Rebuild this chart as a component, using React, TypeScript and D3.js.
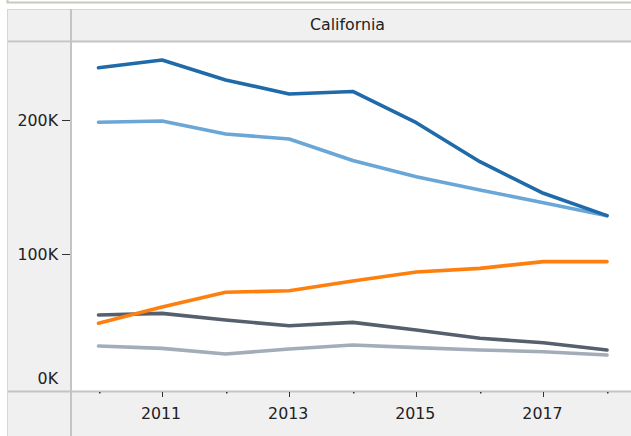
import * as d3 from "d3";
import { useEffect, useRef } from "react";

const years = [2010, 2011, 2012, 2013, 2014, 2015, 2016, 2017, 2018];
const series1 = [239.0, 244.8, 229.9, 219.4, 221.3, 198.0, 168.9, 145.3, 128.6];
const series2 = [198.3, 199.3, 189.6, 185.8, 169.8, 157.7, 147.8, 138.3, 128.6];
const series3 = [48.3, 60.4, 71.4, 72.6, 79.9, 86.6, 89.3, 94.3, 94.3];
const series4 = [54.5, 55.7, 50.7, 46.5, 49.0, 43.3, 37.1, 33.8, 28.4];
const series5 = [31.3, 29.6, 25.4, 29.1, 32.1, 30.1, 28.4, 27.1, 24.6];
const seriesColors = ["#a3acb9", "#565f6d", "#ff7f0e", "#6aa6d6", "#1f6aa8"];
const yTicks = [0, 100, 200];
const xMajor = [2011, 2013, 2015, 2017];
const xMinor = [2010, 2012, 2014, 2016, 2018];
const panelTitle = "California";

export default function App() {
  const ref = useRef<SVGSVGElement>(null);

  useEffect(() => {
    if (!ref.current) return;
    const el = ref.current;
    d3.select(el).selectAll("*").remove();

    const W = 631;
    const H = 436;
    const font = "DejaVu Sans, sans-serif";
    const fs = 15.8;
    const panel = "#f0f0f0";
    const line = "#c4c4c4";
    const plot = { left: 72, right: 631, top: 43, bottom: 391 };

    const svg = d3.select(el).attr("width", W).attr("height", H);

    // frame pieces
    svg.append("rect").attr("width", W).attr("height", H).attr("fill", "#fff");
    svg.append("path").attr("d", `M7.5,0 V2.5 H${W}`).attr("fill", "none").attr("stroke", "#c9c9bf").attr("stroke-width", 2);

    // header row
    svg.append("rect").attr("x", 7).attr("y", 9).attr("width", W - 7).attr("height", 33).attr("fill", panel);
    svg.append("line").attr("x1", 7).attr("x2", W).attr("y1", 9.5).attr("y2", 9.5).attr("stroke", "#d6d6d6");
    svg.append("line").attr("x1", 7).attr("x2", W).attr("y1", 41.5).attr("y2", 41.5).attr("stroke", line).attr("stroke-width", 2);
    svg.append("line").attr("x1", 7.5).attr("x2", 7.5).attr("y1", 9).attr("y2", H).attr("stroke", "#d6d6d6");
    svg.append("line").attr("x1", 71).attr("x2", 71).attr("y1", 9).attr("y2", H).attr("stroke", line).attr("stroke-width", 2);
    svg
      .append("text")
      .attr("x", (plot.left + plot.right) / 2 - 4)
      .attr("y", 30)
      .attr("text-anchor", "middle")
      .attr("font-family", font)
      .attr("font-size", fs)
      .attr("fill", "#222")
      .text(panelTitle);

    // left axis panel + bottom axis panel
    svg.append("rect").attr("x", 8).attr("y", 43).attr("width", 62).attr("height", H - 43).attr("fill", panel);
    svg.append("rect").attr("x", 72).attr("y", plot.bottom + 1).attr("width", W - 72).attr("height", H - plot.bottom).attr("fill", panel);
    svg.append("line").attr("x1", 8).attr("x2", W).attr("y1", plot.bottom + 0.5).attr("y2", plot.bottom + 0.5).attr("stroke", line).attr("stroke-width", 2);

    const x = d3.scaleLinear().domain([2010, 2018]).range([98.5, 607]);
    const y = d3.scaleLinear().domain([0, 100]).range([388, 254]);

    // y axis
    const ya = svg.append("g");
    ya.selectAll("text")
      .data(yTicks)
      .join("text")
      .attr("x", 58)
      .attr("y", d => (d === 0 ? y(d) - 10 : y(d)))
      .attr("dy", "0.36em")
      .attr("text-anchor", "end")
      .attr("font-family", font)
      .attr("font-size", fs)
      .attr("fill", "#222")
      .text(d => `${d}K`);
    ya.selectAll("line")
      .data(yTicks.filter(d => d > 0))
      .join("line")
      .attr("x1", 62)
      .attr("x2", 70)
      .attr("y1", d => Math.round(y(d)) + 0.5)
      .attr("y2", d => Math.round(y(d)) + 0.5)
      .attr("stroke", "#333");

    // x axis
    const xa = svg.append("g");
    xa.selectAll(".maj")
      .data(xMajor)
      .join("line")
      .attr("class", "maj")
      .attr("x1", d => Math.round(x(d)) + 0.5)
      .attr("x2", d => Math.round(x(d)) + 0.5)
      .attr("y1", plot.bottom + 1)
      .attr("y2", plot.bottom + 6)
      .attr("stroke", "#333");
    xa.selectAll(".min")
      .data(xMinor)
      .join("rect")
      .attr("class", "min")
      .attr("x", d => Math.round(x(d)))
      .attr("y", plot.bottom + 1)
      .attr("width", 1.5)
      .attr("height", 1.5)
      .attr("fill", "#333");
    xa.selectAll("text")
      .data(xMajor)
      .join("text")
      .attr("x", d => x(d) - 1)
      .attr("y", 419)
      .attr("text-anchor", "middle")
      .attr("font-family", font)
      .attr("font-size", fs)
      .attr("fill", "#222")
      .text(d => d);

    // lines
    const all = [series5, series4, series3, series2, series1];
    const gen = d3
      .line<number>()
      .x((_, i) => x(years[i]))
      .y(d => y(d));
    svg
      .append("g")
      .selectAll("path")
      .data(all)
      .join("path")
      .attr("d", d => gen(d))
      .attr("fill", "none")
      .attr("stroke", (_, i) => seriesColors[i])
      .attr("stroke-width", 3.6)
      .attr("stroke-linejoin", "round")
      .attr("stroke-linecap", "round");
  }, []);

  return <svg ref={ref} style={{ position: "absolute", left: 0, top: 0, display: "block" }} />;
}
